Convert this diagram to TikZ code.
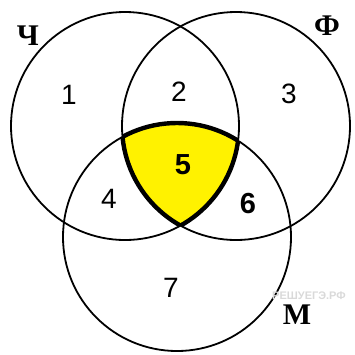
\documentclass[tikz,border=0pt]{standalone}
\usepackage{fontspec}
\setmainfont{Liberation Serif}
\newfontfamily\numfont{Liberation Sans}
\begin{document}
\begin{tikzpicture}[x=1pt,y=-1pt,
  ring/.style={draw=black,line width=1.8pt},
  edgefive/.style={draw=black,line width=4.4pt},
  digit/.style={font=\numfont\fontsize{28}{28}\selectfont,inner sep=0pt},
  bdigit/.style={font=\numfont\bfseries\fontsize{29}{29}\selectfont,inner sep=0pt},
  setname/.style={font=\bfseries\fontsize{30}{30}\selectfont,inner sep=0pt,text=black},
  wmark/.style={font=\numfont\bfseries\fontsize{11}{11}\selectfont,inner sep=0pt,text=black!15}]
\useasboundingbox (0,0) rectangle (355,354);
\coordinate (cL) at (125,126);
\coordinate (cR) at (236,126);
\coordinate (cB) at (177,237);
\def\rr{114}
% yellow region 5
\begin{scope}
  \clip (cL) circle (\rr);
  \clip (cR) circle (\rr);
  \fill[yellow] (cB) circle (\rr);
\end{scope}
% thick outline of region 5
\begin{scope}
  \clip (cL) circle (\rr);
  \clip (cR) circle (\rr);
  \draw[edgefive] (cB) circle (\rr);
\end{scope}
\begin{scope}
  \clip (cL) circle (\rr);
  \clip (cB) circle (\rr);
  \draw[edgefive] (cR) circle (\rr);
\end{scope}
\begin{scope}
  \clip (cR) circle (\rr);
  \clip (cB) circle (\rr);
  \draw[edgefive] (cL) circle (\rr);
\end{scope}
% circles
\draw[ring] (cL) circle (\rr);
\draw[ring] (cR) circle (\rr);
\draw[ring] (cB) circle (\rr);
% watermark
\node[wmark] (wm) at (309,296) {РЕШУЕГЭ.РФ};
% set names
\node[setname] (ch) at (28,36) {Ч};
\node[setname] (ph) at (327,26) {Ф};
\node[setname] (em) at (297,315) {М};
% region numbers
\node[digit] (n1) at (69,95) {1};
\node[digit] (n2) at (179,92) {2};
\node[digit] (n3) at (289,94) {3};
\node[digit] (n4) at (109,199) {4};
\node[bdigit] (n5) at (183,165) {5};
\node[bdigit] (n6) at (248,204) {6};
\node[digit] (n7) at (171,288) {7};
\end{tikzpicture}
\end{document}
